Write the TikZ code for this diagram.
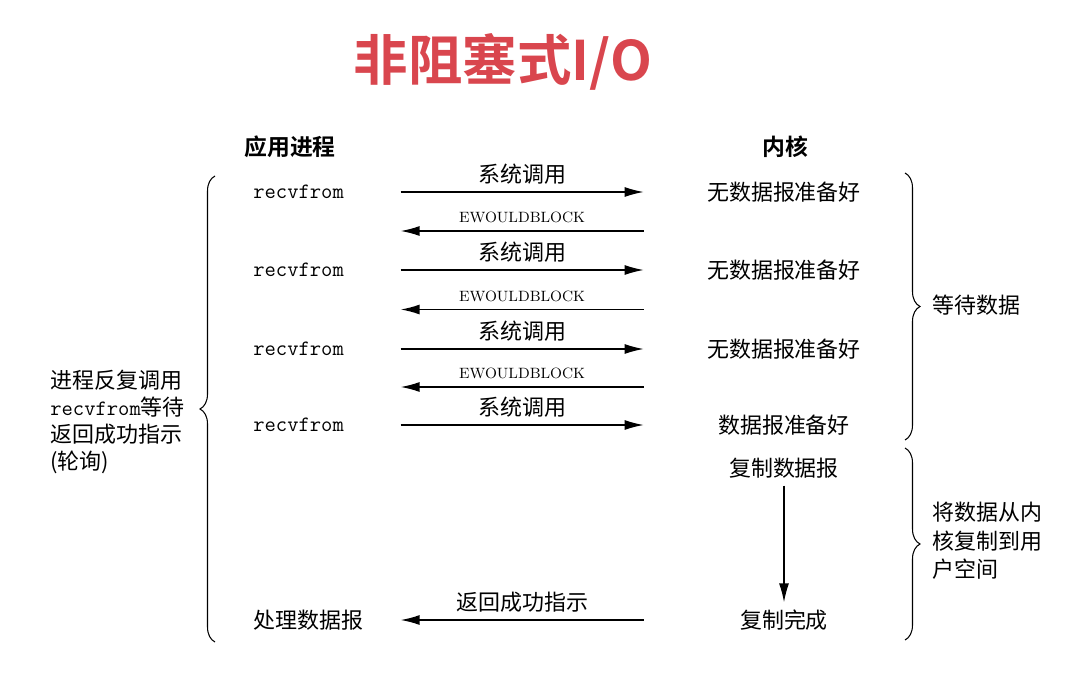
\documentclass[tikz,border=0pt]{standalone}
\usepackage{fontspec}
\usetikzlibrary{arrows.meta,calc,decorations.pathreplacing}
\newfontfamily\cjk{Noto Sans CJK SC}[BoldFont={Noto Sans CJK SC Bold}]
\definecolor{titlered}{RGB}{217,70,78}

\begin{document}
\begin{tikzpicture}[x=0.02cm,y=-0.02cm,
    txt/.style={font=\cjk\fontsize{12.5}{15}\selectfont},
    app/.style={txt,anchor=west,text width=2.94cm,align=left,inner sep=0pt},
    kern/.style={txt,text width=5.6cm,align=center,inner sep=0pt},
    lbl/.style={txt,inner sep=0pt,midway,above=4pt},
    ewb/.style={font=\fontsize{8.5}{10}\selectfont,inner sep=0pt,midway,above=4pt},
    msg/.style={line width=0.8pt,-{Latex[length=3.8mm,width=2mm]}},
    brc/.style={decorate,decoration={brace,amplitude=0.3cm},line width=0.6pt}]
\useasboundingbox (0,0) rectangle (1092,682);
\node[font=\cjk\bfseries\fontsize{31}{31}\selectfont,text=titlered] (title) at (503,62) {非阻塞式I/O};
\node[font=\cjk\bfseries\fontsize{13}{15}\selectfont] (hApp) at (290,147) {应用进程};
\node[font=\cjk\bfseries\fontsize{13}{15}\selectfont] (hKern) at (785,147) {内核};
\node[app] (a1) at (253,192) {\texttt{recvfrom}};
\node[app] (a2) at (253,270) {\texttt{recvfrom}};
\node[app] (a3) at (253,349) {\texttt{recvfrom}};
\node[app] (a4) at (253,425) {\texttt{recvfrom}};
\node[app] (aDone) at (253,620) {处理数据报};
\node[kern] (k1) at (784,192) {无数据报准备好};
\node[kern] (k2) at (784,270) {无数据报准备好};
\node[kern] (k3) at (784,349) {无数据报准备好};
\node[kern] (k4) at (784,425) {数据报准备好};
\node[kern] (kCopy) at (784,468) {复制数据报};
\node[kern] (kDone) at (784,620) {复制完成};
\draw[msg] (a1.east) -- (k1.west) node[lbl] (c1) {系统调用};
\draw[msg] ($(k1.west)!.5!(k2.west)$) -- ($(a1.east)!.5!(a2.east)$) node[ewb] (e1) {EWOULDBLOCK};
\draw[msg] (a2.east) -- (k2.west) node[lbl] (c2) {系统调用};
\draw[msg] ($(k2.west)!.5!(k3.west)$) -- ($(a2.east)!.5!(a3.east)$) node[ewb] (e2) {EWOULDBLOCK};
\draw[msg] (a3.east) -- (k3.west) node[lbl] (c3) {系统调用};
\draw[msg] ($(k3.west)!.5!(k4.west)$) -- ($(a3.east)!.5!(a4.east)$) node[ewb] (e3) {EWOULDBLOCK};
\draw[msg] (a4.east) -- (k4.west) node[lbl] (c4) {系统调用};
\draw[msg,shorten <=4pt,shorten >=4pt] (kCopy) -- (kDone);
\draw[msg] (kDone.west) -- (aDone.east) node[lbl] (ret) {返回成功指示};
\draw[brc] (215,642) -- (215,176);
\draw[brc] (905,173) -- (905,440);
\draw[brc] (905,448) -- (905,640);
\node[txt,font=\cjk\fontsize{12.5}{15.3}\selectfont,anchor=west,align=left,inner sep=0pt] (poll) at (50,422)
    {进程反复调用\\\texttt{recvfrom}等待\\返回成功指示\\(轮询)};
\node[txt,anchor=west,inner sep=0pt] (wait) at (932,305) {等待数据};
\node[font=\cjk\fontsize{12.5}{16.2}\selectfont,anchor=west,align=left,inner sep=0pt] (copy) at (932,541)
    {将数据从内\\核复制到用\\户空间};
\end{tikzpicture}
\end{document}
